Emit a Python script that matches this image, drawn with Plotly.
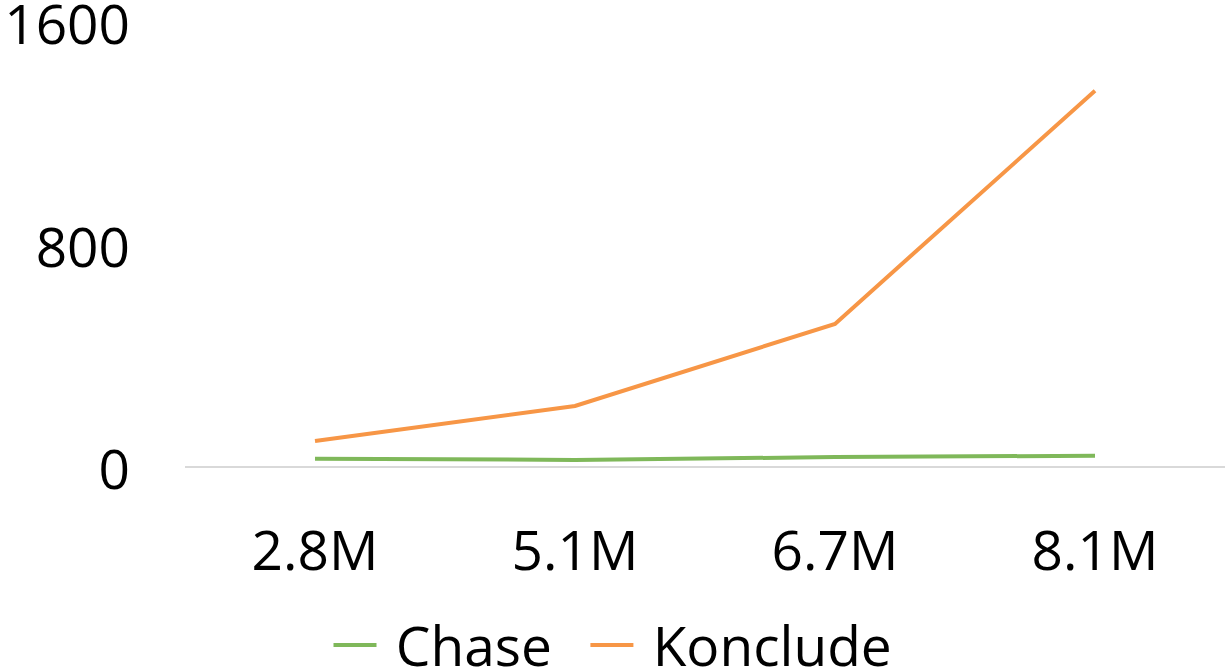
import plotly.graph_objects as go

categories = ["2.8M", "5.1M", "6.7M", "8.1M"]
chase = [26, 22, 32, 37]
konclude = [90, 216, 511, 1349]

FONT = "Open Sans"

fig = go.Figure()
fig.add_trace(go.Scatter(x=categories, y=chase, name=" Chase  ", mode="lines",
                         line=dict(color="#7fb85a", width=4)))
fig.add_trace(go.Scatter(x=categories, y=konclude, name=" Konclude", mode="lines",
                         line=dict(color="#f79646", width=4)))

fig.update_layout(
    width=1226, height=670,
    margin=dict(l=185, r=1, t=21, b=204),
    paper_bgcolor="white", plot_bgcolor="white",
    font=dict(family=FONT, size=55, color="black"),
    showlegend=True,
    legend=dict(orientation="h", xref="container", yref="container",
                x=0.5, xanchor="center", y=0.037, yanchor="middle",
                font=dict(size=55), itemwidth=43, tracegroupgap=0),
    xaxis=dict(type="category", range=[-0.5, 3.5], showgrid=False, zeroline=False,
               showline=True, linecolor="#d9d9d9", linewidth=2, automargin=False,
               ticks="outside", ticklen=0, ticklabelstandoff=36,
               ticklabeloverflow="allow"),
    yaxis=dict(range=[0, 1600], tickvals=[0, 800, 1600], showgrid=False,
               zeroline=False, showline=False, automargin=False,
               ticks="outside", ticklen=0, ticklabelstandoff=43,
               ticklabelshift=4, ticklabeloverflow="allow"),
)

# drop the default 8px body margin so the figure fills the window
fig.write_html("out.html", config={"displayModeBar": False},
               post_script="document.body.style.margin='0';")
